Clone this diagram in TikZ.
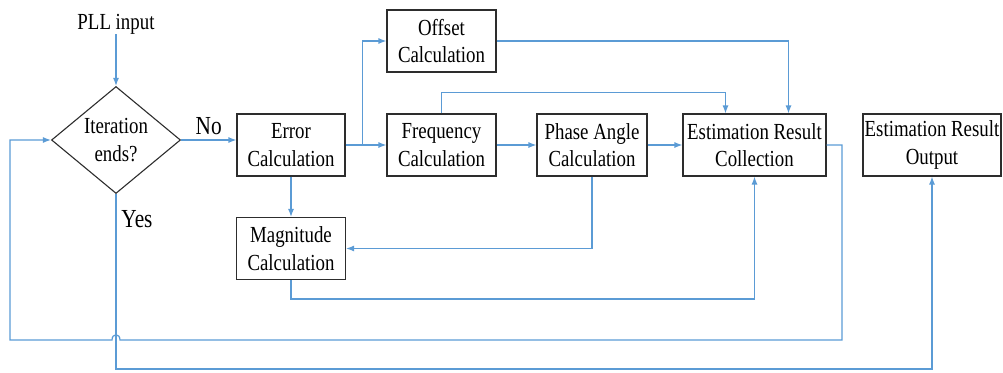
\documentclass[tikz,border=0pt]{standalone}
\usepackage{fontspec}
\setmainfont{Liberation Serif}[FakeStretch=0.82]
\usetikzlibrary{arrows.meta,shapes.geometric,calc}

\definecolor{flow}{RGB}{91,155,213}
\definecolor{edge}{RGB}{45,45,45}

\tikzset{
  procbox/.style={draw=edge, line width=1.1pt, rectangle, align=center,
    inner sep=0pt, minimum height=62pt, font=\fontsize{23}{27.5}\selectfont},
  decbox/.style={draw=edge, line width=1.1pt, diamond, shape aspect=1.25,
    align=center, inner sep=0pt, minimum width=129pt, minimum height=107pt,
    font=\fontsize{23}{27.5}\selectfont},
  plain/.style={inner sep=0pt, font=\fontsize{23}{27.5}\selectfont},
  bigtext/.style={inner sep=0pt, font=\fontsize{26}{30}\selectfont},
  conn/.style={draw=flow, line width=1.2pt, -{Latex[length=8pt,width=6pt]}},
  wire/.style={draw=flow, line width=1.2pt}
}

\begin{document}
\begin{tikzpicture}[x=1pt,y=-1pt]
\useasboundingbox (0,0) rectangle (1003,372);

% decision and input
\node[plain] (pll) at (116,24) {PLL input};
\node[decbox] (dec) at (116,140) {Iteration\\ends?};

% processing blocks
\node[procbox, minimum width=108pt] (err)   at (291,145)   {Error\\Calculation};
\node[procbox, minimum width=109pt] (off)   at (441.5,41)  {Offset\\Calculation};
\node[procbox, minimum width=109pt] (freq)  at (441.5,145) {Frequency\\Calculation};
\node[procbox, minimum width=110pt] (phase) at (592,145)   {Phase Angle\\Calculation};
\node[procbox, minimum width=143pt] (coll)  at (754.5,145) {Estimation Result\\Collection};
\node[procbox, minimum width=138pt] (outp)  at (932,145)   {Estimation Result\\Output};
\node[procbox, minimum width=109pt] (mag)   at (291,248.5) {Magnitude\\Calculation};

\node[bigtext] (yes) at (137,219) {Yes};

% main flow
\draw[conn] (pll.south) -- (dec.north);
\draw[conn] (dec.east) -- node[bigtext, above=5pt] (no) {No} (dec.east -| err.west);
\draw[conn] (err.east) -- (freq.west);
\coordinate (br) at ($(err.east)+(17,0)$);
\draw[conn] (br) |- (off.west);
\draw[conn] (freq.east) -- (phase.west);
\draw[conn] (phase.east) -- (coll.west);

% feeds into the collection block
\draw[conn] (off.east) -| ($(coll.north)+(34,0)$);
\draw[conn] (freq.north) -- ++(0,-21) -| ($(coll.north)+(-29,0)$);
\draw[conn] (err.south) -- (mag.north);
\draw[conn] (phase.south) |- (mag.east);
\draw[conn] (mag.south) -- ++(0,19) -| (coll.south);

% iteration loop back to the decision, hopping over the exit line
\coordinate (lr) at (842,340);
\coordinate (ll) at (10,340);
\draw[conn] (coll.east) -| (lr) -- (120,340)
  .. controls (120,333) and (112,333) .. (112,340) -- (ll) |- (dec.west);

% exit to the output block
\draw[conn] (dec.south) -- (116,369) -| (outp.south);
\end{tikzpicture}
\end{document}
